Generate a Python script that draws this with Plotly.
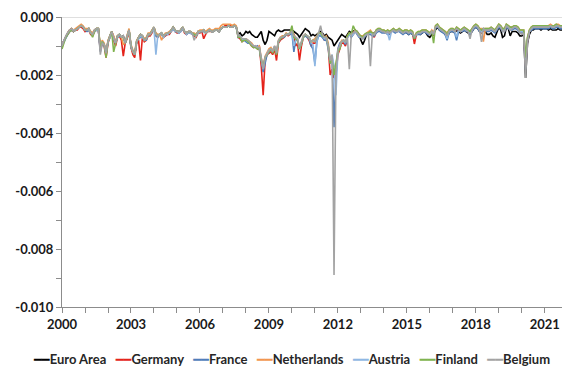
import pandas as pd
import plotly.graph_objects as go

# Monthly values in basis points (1 bp = 0.0001), Jan 2000 - Oct 2021
euro_area = [
    -9.5, -8, -6.5, -5.5, -4.5, -4, -5, -4.5, -4, -3.5, -3, -3.5,
    -4.5, -4.5, -4, -5.5, -6, -4.5, -4, -4, -11, -8.5, -9.5, -12.5,
    -8.5, -6.5, -5, -7, -9, -6.5, -6, -7, -6.5, -9, -7, -4.5,
    -10, -12, -13, -8.5, -7, -6, -6.5, -8, -7.5, -6, -6, -5,
    -3.5, -6, -6.5, -6, -5.5, -6.5, -6, -5.5, -5.5, -4.5, -3.5, -4.5,
    -5, -5, -4.5, -3.5, -5, -5.5, -5, -5, -5.5, -6, -6.5, -5,
    -5, -5, -4.5, -5.5, -5, -4.5, -5, -5, -4.5, -4.5, -5, -4,
    -3.5, -3.5, -3.5, -3, -3.5, -3.5, -3, -3.5, -6, -5.5, -6.5, -6,
    -5, -5.5, -5, -6, -6.5, -7, -7, -6, -5, -8, -9.5, -8,
    -5, -5.5, -6, -6.5, -5, -4.5, -5, -5, -4.5, -4.5, -4.5, -4.5,
    -4.5, -5, -5.5, -6, -7, -6, -5, -4, -4.5, -5, -6.5, -6,
    -6.5, -6, -5.5, -5, -5.5, -6.5, -6, -7, -7.5, -8, -10, -9,
    -8, -7, -6, -6.5, -7, -6, -5, -5.5, -5, -4.5, -5, -6,
    -8, -9.5, -8, -6, -5.5, -5, -6, -5.5, -5, -4.5, -4.5, -5,
    -5, -5.5, -5, -5.5, -5, -4.5, -5, -5, -4.5, -5, -5.5, -5,
    -5.5, -6, -5.5, -6, -7, -6, -5.5, -6, -5.5, -5, -5.5, -6.5,
    -7, -6, -5.5, -4.5, -3.5, -4.5, -5, -5, -6, -7, -5.5, -5,
    -5, -5.5, -4.5, -5, -5.5, -5, -4.5, -5, -5.5, -6, -5, -4,
    -3.5, -4, -5, -5.5, -4.5, -5, -6, -6, -5.5, -6.5, -7, -5,
    -3.5, -4.5, -7, -6.5, -3.5, -4, -6.5, -5, -5, -5, -5.5, -6.5,
    -6.5, -6, -21, -9, -6, -4.5, -4.5, -4, -4, -4, -4.5, -4,
    -4, -4, -4.5, -4, -4.5, -4.5, -4.5, -4, -4.5, -4.5,
]

germany = [
    -10.5, -8, -7, -6, -5, -4.5, -5, -4.5, -4.5, -3.5, -3.5, -4,
    -5, -4.5, -4.5, -6, -6.5, -5, -4.5, -4.5, -11.5, -9, -10, -14,
    -9, -7, -5.5, -8, -10, -7, -6.5, -8, -13.5, -9, -7.5, -5,
    -10.5, -13, -14, -9, -8, -15, -7, -8.5, -8, -6.5, -6.5, -5.5,
    -4, -6.5, -7, -6, -6, -7, -6.5, -6, -6, -5, -4, -5,
    -5.5, -5.5, -5, -4, -5.5, -6, -5.5, -5.5, -6, -6.5, -7, -5.5,
    -5.5, -5, -7.5, -6, -5, -5, -5, -5, -4.5, -4.5, -5, -4,
    -3.5, -3, -3, -3, -3, -3, -3, -3.5, -7, -7.5, -8.5, -8,
    -8, -8.5, -9, -10, -10.5, -10, -11, -10, -17, -27, -15, -13,
    -12.5, -12, -13, -11, -15, -9, -8, -7.5, -7, -6, -6.5, -6,
    -5, -6, -10, -9, -15, -10, -7, -6, -7, -8, -10, -9,
    -9, -7.5, -6, -6, -6.5, -8, -7, -10, -20, -18, -21, -20,
    -13, -11, -9, -9, -10, -7, -6, -6.5, -6, -5, -5.5, -6.5,
    -7, -7, -6.5, -6, -5.5, -5, -6, -7, -5, -4.5, -4.5, -5,
    -5, -5.5, -5, -5.5, -5, -4.5, -5, -5, -4.5, -5, -5.5, -5,
    -5, -5.5, -5, -5.5, -9.3, -6, -5.5, -5.5, -5, -5, -5, -5.5,
    -6, -5, -6.5, -3.5, -3, -4, -4.5, -5, -5.5, -6, -5, -4.5,
    -4.5, -5, -4, -4.5, -5, -4.5, -4, -4.5, -5, -5.5, -4.5, -3.5,
    -3, -3.5, -4.5, -5, -4, -4.5, -4.5, -4.5, -4, -4.5, -5, -4,
    -3, -3.5, -4.5, -4.5, -3, -3.5, -4, -4, -3.5, -3.5, -4, -5,
    -5, -5, -17, -8, -5, -4, -3.5, -3.5, -3.5, -3.5, -3.5, -3.5,
    -3.5, -3.5, -3.5, -3, -3.5, -3.5, -3, -3, -3.5, -3.5,
]

france = [
    -10, -8.5, -7, -6, -5, -4.5, -4.5, -4.5, -4, -3.5, -3, -3.5,
    -4.5, -5, -4.5, -5.5, -6, -5, -4.5, -4.5, -12, -9, -9.5, -13,
    -8.5, -7, -5.5, -7.5, -9, -7, -6.5, -7, -7, -9, -7, -4.5,
    -10.5, -12, -13, -8.5, -7.5, -7, -7, -8, -8, -6, -6, -5,
    -4, -6.5, -7, -6, -6, -7, -6, -6, -5.5, -5, -4, -5,
    -5, -5.5, -5, -4, -5, -6, -5.5, -5.5, -6, -6, -6.5, -5.5,
    -5, -5, -5, -5.5, -5, -4.5, -5, -5, -4.5, -4.5, -5, -4,
    -3.5, -3.5, -3.5, -3, -3.5, -3.5, -3, -3.5, -7, -6.5, -8, -8,
    -8.5, -9, -9, -9.5, -10, -10.5, -10, -11, -15, -19, -16, -13,
    -12, -11, -12, -10.5, -12, -8.5, -7.5, -7, -7, -6, -6, -6,
    -5.5, -12, -8, -8, -11, -9, -7, -6.5, -7, -7.5, -10, -11,
    -16, -8.5, -6.5, -6.5, -7, -8, -8, -11, -16, -14, -38, -20,
    -11, -9, -8.5, -8, -9.5, -7, -6, -7, -6, -5, -6, -7,
    -7, -7.5, -7, -6, -6, -6, -6.5, -6.5, -5.5, -5, -5, -5.5,
    -5.5, -5.5, -6, -6, -5, -5, -5.5, -5, -5, -5.5, -6, -5.5,
    -5.5, -6, -5.5, -6, -7.5, -6, -6, -6, -5.5, -5, -5.5, -6,
    -6, -5.5, -6, -4, -3, -4.5, -5, -5.5, -6, -8, -5.5, -5,
    -5, -5.5, -8, -5, -5, -5, -4.5, -5, -5, -6, -5, -4,
    -3.5, -4, -5, -5.5, -4.5, -5, -5, -5, -4.5, -5, -5.5, -4.5,
    -3.5, -4, -5, -5, -3.5, -4, -4.5, -4.5, -4, -4, -4.5, -5.5,
    -5.5, -5.5, -18, -8, -5, -4.5, -4, -4, -4, -4, -4, -4,
    -4, -4, -4, -3.5, -4, -4, -3.5, -3.5, -4, -4,
]

netherlands = [
    -9.5, -8, -6.5, -5.5, -4.5, -4, -4.5, -4, -3.5, -3, -2.5, -3,
    -4, -4, -4, -5, -5.5, -4.5, -4, -4, -10, -8, -9, -12,
    -8, -6.5, -5, -6.5, -8.5, -6.5, -6, -7, -9.6, -8.5, -6.5, -4,
    -9.5, -11.5, -12, -8, -7, -6, -6.5, -7.5, -7, -5.5, -5.5, -4.5,
    -3.5, -5.5, -6, -6, -8, -6.5, -5.5, -5.5, -5, -4.5, -3.5, -4.5,
    -5, -5, -4.5, -3.5, -5, -5.5, -5, -5, -5.5, -5.5, -6, -5,
    -4.5, -4.5, -4.5, -5, -4.5, -4, -4.5, -4.5, -4, -4, -4, -3,
    -2.5, -2.5, -2.5, -2.5, -2.5, -3, -2.5, -3, -6.5, -6.5, -8, -7.5,
    -7.5, -8, -8.5, -9, -10, -10, -10.5, -10, -14, -17, -13.5, -12,
    -11, -10.5, -11.5, -10, -12, -8, -7, -6.5, -6.5, -5.5, -6, -5.5,
    -4.5, -6, -7, -8, -11, -8.5, -6.5, -6, -6.5, -7, -8.5, -8,
    -7.5, -6.5, -5.5, -5.5, -6, -7, -6.5, -9, -15, -14, -17, -17,
    -12, -10, -8, -8, -8.5, -6.5, -5.5, -6, -5.5, -4.5, -5, -6,
    -6.5, -6.5, -6, -5.5, -5, -4.5, -5.5, -6, -4.5, -4, -4, -4.5,
    -4.5, -5, -4.5, -5, -4.5, -4, -4.5, -4.5, -4, -4.5, -5, -4.5,
    -4.5, -5, -4.5, -5, -7, -5.5, -5, -5, -4.5, -4.5, -4.5, -5,
    -5.5, -4.5, -5.5, -3, -2.5, -3.5, -4, -4.5, -5, -5.5, -4.5, -4,
    -4, -4.5, -3.5, -4, -4.5, -4, -3.5, -4, -4.5, -5, -4, -3,
    -2.5, -3, -4, -4, -8.5, -4, -4, -4, -3.5, -4, -4.5, -3.5,
    -2.5, -3, -4, -4, -2.5, -3, -3.5, -3.5, -3, -3, -3.5, -4.5,
    -4.5, -4.5, -16, -7, -4.5, -3.5, -3, -3, -3, -3, -3, -3,
    -3, -3, -3, -2.5, -3, -3, -2.5, -2.5, -3, -3,
]

austria = [
    -10, -8, -7, -5.5, -5, -4.5, -4.5, -4.5, -4, -3.5, -3, -3.5,
    -4.5, -4.5, -4.5, -5.5, -6, -5, -4.5, -4.5, -11, -8.5, -9.5, -12.5,
    -8.5, -7, -5.5, -7.5, -9, -7, -6, -7, -7, -9, -7, -4.5,
    -10, -12, -13, -8.5, -7.5, -6.5, -7, -8, -7.5, -6, -6, -5,
    -4, -13, -6.5, -6, -6, -7, -6, -6, -5.5, -5, -4, -5,
    -5, -5.5, -5, -4, -5, -6, -5.5, -5.5, -6, -6, -6.5, -5.5,
    -5, -5, -5, -5.5, -5, -4.5, -5, -5, -4.5, -4.5, -5, -4,
    -3.5, -3.5, -3.5, -3, -3.5, -3.5, -3, -3.5, -6.5, -6.5, -8, -7.5,
    -8, -8.5, -9, -9.5, -10, -10, -10.5, -10.5, -15, -18, -14, -12.5,
    -11.5, -11, -12, -10, -12.5, -8.5, -7.5, -7, -6.5, -6, -6, -5.5,
    -5, -10, -8, -7.5, -11, -9, -7, -6, -6.5, -7, -9, -9.5,
    -17, -8.5, -6, -6, -6.5, -7.5, -7.5, -10, -15, -13, -17, -27,
    -12, -10, -8.5, -8, -9, -7, -6, -6.5, -6, -5, -5.5, -6.5,
    -7, -7, -6.5, -6, -5.5, -5.5, -6, -6, -5, -4.5, -4.5, -5,
    -5, -5.5, -5.5, -8, -5, -4.5, -5, -5, -4.5, -5, -5.5, -5,
    -5, -5.5, -5, -5.5, -7, -6, -5.5, -5.5, -5, -5, -5, -5.5,
    -6, -5, -6, -3.5, -3, -4, -4.5, -5, -5.5, -7.5, -5, -4.5,
    -4.5, -5, -7, -4.5, -5, -4.5, -4, -4.5, -5, -5.5, -4.5, -3.5,
    -3, -3.5, -4.5, -5, -4, -4.5, -4.5, -4.5, -4, -4.5, -5, -4,
    -3, -3.5, -4.5, -4.5, -3, -3.5, -4, -4, -3.5, -3.5, -4, -5,
    -5, -5, -15, -7.5, -5, -4, -3.5, -3.5, -3.5, -3.5, -3.5, -3.5,
    -3.5, -3.5, -3.5, -3, -3.5, -3.5, -3, -3, -3.5, -3.5,
]

finland = [
    -11, -8.5, -7, -6, -5, -4.5, -5, -4.5, -4, -3.5, -3, -3.5,
    -4.5, -4.5, -4, -5.5, -7, -5, -4, -4, -10.5, -8.5, -9.5, -14,
    -8.5, -6.5, -5, -12, -9, -6.5, -6, -7, -7, -9, -7, -4.5,
    -10, -12, -13, -8.5, -7, -6, -6.5, -8, -7.5, -6, -6, -5,
    -3.5, -6, -6.5, -6, -5.5, -6.5, -6, -5.5, -5.5, -4.5, -3.5, -4.5,
    -5, -5, -4.5, -3.5, -5, -5.5, -5, -5, -5.5, -6, -6.5, -5,
    -5, -5, -4.5, -5.5, -5, -4.5, -5, -5, -4.5, -4.5, -5, -4,
    -3.5, -3.5, -3.5, -3, -3.5, -3.5, -3, -3.5, -7, -7, -8.5, -8,
    -8, -8.5, -9, -10, -10.5, -10.5, -11, -11, -15, -17, -14, -13,
    -12, -11, -12.5, -10.5, -13, -8.5, -7.5, -7, -6.5, -6, -6, -5.5,
    -3, -7, -7.5, -8, -11, -9, -7, -6, -6.5, -7, -8.5, -8,
    -8.5, -7, -5.5, -5.5, -6.5, -7, -7, -10, -16, -15, -20, -16,
    -12, -11, -8.5, -8, -8.5, -6.5, -5.5, -6, -3, -4.5, -5, -6,
    -6.5, -7, -6, -5.5, -5.5, -5, -5.5, -6, -4.5, -4, -4, -4.5,
    -4.5, -5, -4.5, -5, -4.5, -4, -4.5, -4.5, -4, -4.5, -5, -4.5,
    -4.5, -5, -4.5, -5, -7.5, -5.5, -5, -5, -4.5, -4.5, -4.5, -5,
    -5.5, -5, -9, -3, -2.5, -3.5, -4, -4.5, -5, -6, -4.5, -4,
    -4, -4.5, -3.5, -4, -4.5, -4, -3.5, -4, -4.5, -5, -4, -3,
    -2.5, -3, -4, -4.5, -4, -4, -4, -4, -3.5, -4, -4.5, -3.5,
    -2.5, -3, -4, -4, -2.5, -3, -3.5, -3.5, -3, -3, -3.5, -4.5,
    -4.5, -4.5, -14, -7, -4.5, -3.5, -3, -3, -3, -3, -3, -3,
    -3, -3, -3, -3, -3, -3, -2.5, -3, -3, -3,
]

belgium = [
    -10, -8, -6.5, -5.5, -4.5, -4, -5, -4.5, -4, -3.5, -3, -3.5,
    -4.5, -4.5, -4, -5.5, -6, -4.5, -4, -4, -13, -9, -9.5, -12.5,
    -8.5, -6.5, -5, -7, -9, -6.5, -6, -7, -6.5, -9, -7, -4.5,
    -10, -12, -13, -8.5, -7, -6, -6.5, -8, -7.5, -6, -6, -5,
    -3.5, -6, -6.5, -6, -5.5, -6.5, -6, -5.5, -5.5, -4.5, -3.5, -4.5,
    -5, -5, -4.5, -3.5, -5, -5.5, -5, -5, -5.5, -8, -6.5, -5,
    -5, -5, -4.5, -5.5, -5, -4.5, -5, -5, -4.5, -4.5, -5, -4,
    -3.5, -3.5, -3.5, -3, -3.5, -3.5, -3, -3.5, -6.5, -6.5, -7.5, -7.5,
    -7.5, -8, -8.5, -9.5, -10, -10, -10.5, -10.5, -14.5, -18, -14, -12.5,
    -11.5, -11, -12, -10, -12.5, -8, -7, -7, -6.5, -6, -6, -5.5,
    -5, -6.5, -7, -7.5, -10.5, -8.5, -6.5, -6, -6.5, -7, -8.5, -8,
    -8.5, -7, -5.5, -3, -6, -7, -7, -10, -15, -13, -89, -20,
    -11, -10, -8.5, -8, -8.5, -7, -18, -6, -5.5, -5, -5.5, -6.5,
    -7, -7.5, -6.5, -6, -6, -17, -6, -6, -5, -4.5, -4.5, -5,
    -5, -5.5, -5, -5.5, -5, -4.5, -5, -5, -4.5, -5, -5.5, -5,
    -5, -5.5, -5, -5.5, -7, -6, -5.5, -5.5, -5, -5, -5, -5.5,
    -6, -5, -6, -3.5, -3, -4, -4.5, -5, -5.5, -6.5, -5, -4.5,
    -4.5, -5, -4, -4.5, -5, -4.5, -4, -4.5, -5, -7.5, -4.5, -3.5,
    -3, -3.5, -4.5, -8.6, -4, -4.5, -4.5, -4.5, -4, -4.5, -5, -4,
    -3, -3.5, -5, -5, -3, -3.5, -4.5, -4, -3.5, -3.5, -4, -5.5,
    -6, -5.5, -21, -8.5, -5, -4, -3.5, -3.5, -3.5, -3.5, -3.5, -3.5,
    -3.5, -3.5, -3.5, -3, -3.5, -3.5, -3, -3, -3.5, -3.5,
]

series_names = ["Euro Area", "Germany", "France", "Netherlands",
                "Austria", "Finland", "Belgium"]
series_values = [euro_area, germany, france, netherlands,
                 austria, finland, belgium]
series_colors = ["#000000", "#E4231B", "#4F7DBA", "#F2964F",
                 "#8FB7E3", "#80B34F", "#A3A3A3"]

year_ticks = list(range(2000, 2022))
y_ticks = [-0.010, -0.009, -0.008, -0.007, -0.006, -0.005,
           -0.004, -0.003, -0.002, -0.001, 0.000]

dates = pd.date_range("2000-01-01", periods=len(euro_area), freq="MS")
for vals in series_values:
    assert len(vals) == len(dates)

fig = go.Figure()
for name, vals, color in zip(series_names, series_values, series_colors):
    fig.add_trace(go.Scatter(
        x=dates, y=[v / 10000 for v in vals], name=name, mode="lines",
        line=dict(color=color, width=1.6), showlegend=False,
    ))

tick_font = dict(family="Lato", size=13, color="#1a1a1a", weight="bold")

fig.update_xaxes(
    range=[dates[0], dates[-1]],
    tickvals=[pd.Timestamp(f"{y}-01-01") for y in year_ticks],
    ticktext=[str(y) if (y - 2000) % 3 == 0 else "" for y in year_ticks],
    ticks="outside", ticklen=5, tickcolor="#8c8c8c", tickwidth=1,
    showline=True, linecolor="#8c8c8c", linewidth=1,
    showgrid=False, zeroline=False, tickfont=tick_font,
)
fig.update_yaxes(
    range=[-0.010, 0.000],
    tickvals=y_ticks,
    ticktext=[f"{v:.3f}" if round(v * 1000) % 2 == 0 else "" for v in y_ticks],
    ticks="outside", ticklen=5, tickcolor="#8c8c8c", tickwidth=1,
    showline=True, linecolor="#8c8c8c", linewidth=1,
    showgrid=False, zeroline=False, tickfont=tick_font,
)

# zero reference line along the top of the plot
fig.add_shape(type="line", xref="paper", yref="y", x0=0, x1=1, y0=0, y1=0,
              line=dict(color="#bfbfbf", width=1), layer="below")

# legend row: a heavy coloured dash before each series name
legend_text = "\u00a0\u00a0\u00a0".join(
    f'<span style="color:{c}">\u2501\u2501</span>{n}'
    for n, c in zip(series_names, series_colors)
)
fig.add_annotation(
    text=legend_text, xref="paper", yref="paper", x=0.458, y=-0.18,
    xanchor="center", yanchor="middle", showarrow=False,
    font=dict(family="Lato, DejaVu Sans", size=13, color="#262626",
              weight="bold"),
)

fig.update_layout(
    width=565, height=372,
    margin=dict(l=62, r=3, t=17, b=65),
    paper_bgcolor="white", plot_bgcolor="white",
)

fig.write_html("out.html")
